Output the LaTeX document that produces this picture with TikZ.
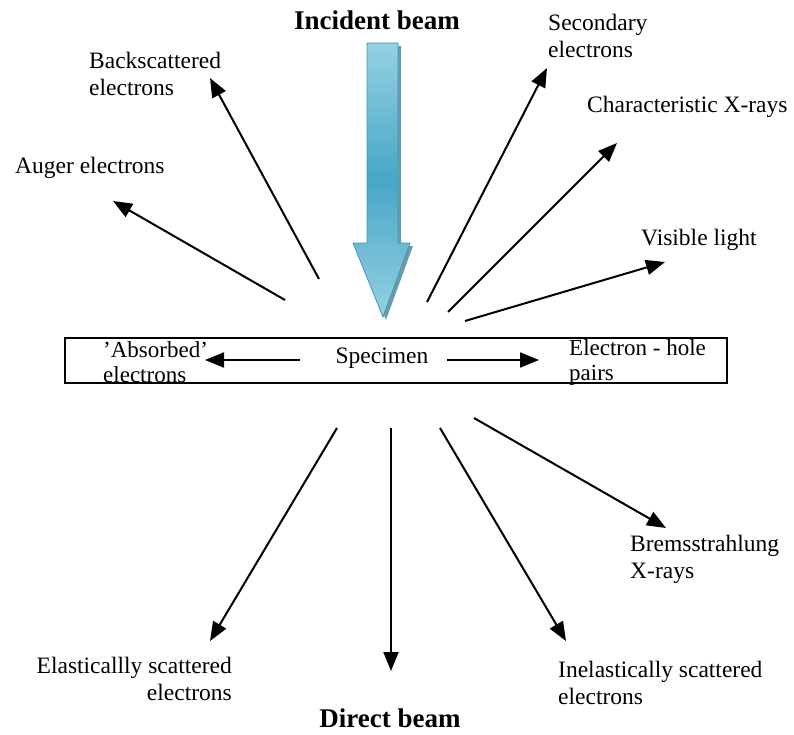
\documentclass[tikz,border=0pt]{standalone}
\usepackage{fontspec}
\setmainfont{Liberation Serif}
\usetikzlibrary{arrows.meta}
\definecolor{beamlight}{HTML}{94D0E2}
\definecolor{beammid}{HTML}{47A7C6}
\definecolor{beamedge}{HTML}{3E98B6}
\definecolor{beamshadow}{HTML}{2F6F86}
\begin{document}
\begin{tikzpicture}[x=1pt,y=-1pt,
 lbl/.style={font=\fontsize{23.5}{27}\selectfont, inner sep=0pt},
 boxlbl/.style={font=\fontsize{23}{25}\selectfont, inner sep=0pt},
 ttl/.style={font=\fontsize{27}{30}\selectfont\bfseries, inner sep=0pt},
 arr/.style={line width=2pt, -{Triangle[length=19pt,width=15pt]}},
 boxstyle/.style={draw, line width=1.8pt, inner sep=0pt},
]
\useasboundingbox (0,0) rectangle (794,735);

% incident beam (thick arrow)
\fill[beamshadow, opacity=0.7] (370,46) -- (401,46) -- (401,246) -- (413,246) -- (386,320) -- (356,246) -- (370,246) -- cycle;
\shade[top color=beamlight, bottom color=beamlight, middle color=beammid, draw=beamedge, line width=0.8pt]
 (367,43) -- (398,43) -- (398,243) -- (410,243) -- (383,317) -- (353,243) -- (367,243) -- cycle;

% titles
\node[ttl] (incident) at (377,20) {Incident beam};
\node[ttl] (direct) at (390,718) {Direct beam};

% specimen box
\node[boxstyle, minimum width=662pt, minimum height=45pt] (box) at (396,360.5) {};
\node[lbl] (specimen) at (382,358) {Specimen};
\node[boxlbl, anchor=west, align=left] (absorbed) at (103,362) {\char39Absorbed\char39\\electrons};
\node[boxlbl, anchor=west, align=left] (ehpairs) at (569,362) {Electron - hole\\pairs};
\coordinate (a0) at (300,360); \coordinate (a1) at (205,360);
\coordinate (e0) at (447,360); \coordinate (e1) at (539,360);
\draw[arr] (a0) -- (a1);
\draw[arr] (e0) -- (e1);

% upper labels
\node[lbl, anchor=west, align=left] (backsc) at (89,73.5) {Backscattered\\electrons};
\node[lbl, anchor=west] (auger) at (15,168) {Auger electrons};
\node[lbl, anchor=west, align=left] (second) at (548,35.5) {Secondary\\electrons};
\node[lbl, anchor=west] (charx) at (587,107) {Characteristic X-rays};
\node[lbl, anchor=west] (vis) at (641,240) {Visible light};

% lower labels
\node[lbl, anchor=west, align=left] (brems) at (630,559) {Bremsstrahlung\\X-rays};
\node[lbl, anchor=west, align=left] (inel) at (558,683) {Inelastically scattered\\electrons};
\node[lbl, anchor=east, align=right] (elast) at (232,679) {Elasticallly scattered\\electrons};

% upper arrows
\coordinate (bs0) at (319,279); \coordinate (bs1) at (210,78);
\coordinate (au0) at (285,300); \coordinate (au1) at (113,201);
\coordinate (se0) at (427,302); \coordinate (se1) at (547,68);
\coordinate (cx0) at (448,312); \coordinate (cx1) at (617,143);
\coordinate (vl0) at (465,321); \coordinate (vl1) at (665,262);
\draw[arr] (bs0) -- (bs1);
\draw[arr] (au0) -- (au1);
\draw[arr] (se0) -- (se1);
\draw[arr] (cx0) -- (cx1);
\draw[arr] (vl0) -- (vl1);

% lower arrows
\coordinate (el0) at (337,428); \coordinate (el1) at (210,641);
\coordinate (db0) at (391,428); \coordinate (db1) at (391,671);
\coordinate (in0) at (440,428); \coordinate (in1) at (566,641);
\coordinate (br0) at (474,418); \coordinate (br1) at (666,528);
\draw[arr] (el0) -- (el1);
\draw[arr] (db0) -- (db1);
\draw[arr] (in0) -- (in1);
\draw[arr] (br0) -- (br1);
\end{tikzpicture}
\end{document}
